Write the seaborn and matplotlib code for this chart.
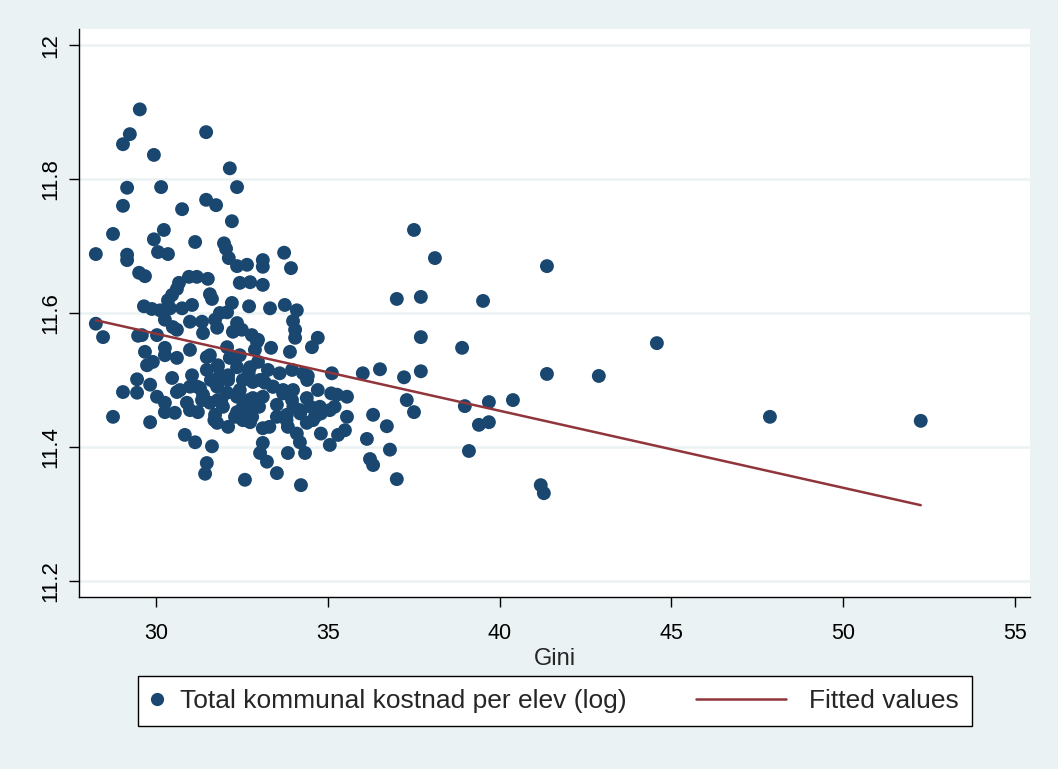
import numpy as np
import pandas as pd
import seaborn as sns
import matplotlib
matplotlib.use("Agg")
import matplotlib.pyplot as plt
from matplotlib.lines import Line2D
from matplotlib.legend_handler import HandlerBase, HandlerLine2D

# ---------------- data ----------------
gini = [
    29.53, 29.24, 29.04, 29.94, 31.46, 32.15, 32.36, 29.16, 30.15, 29.04,
    30.76, 31.46, 31.75, 32.21, 30.23, 28.75, 29.94, 31.14, 31.98, 28.25,
    29.16, 29.16, 30.06, 30.35, 32.04, 32.12, 32.36, 32.65, 33.11, 33.11,
    33.73, 33.93, 29.51, 29.68, 30.67, 30.96, 31.19, 31.51, 32.44, 32.74,
    33.11, 31.57, 30.47, 30.61, 32.21, 31.63, 29.65, 29.88, 30.12, 30.35,
    30.41, 30.76, 31.05, 31.86, 30.99, 31.34, 31.72, 32.36, 30.26, 30.49,
    31.37, 31.78, 32.50, 29.59, 30.03, 32.71, 33.32, 33.75, 34.10, 33.99,
    34.05, 34.05, 32.97, 34.71, 34.54, 32.07, 28.25, 28.46, 29.48, 30.61,
    32.79, 32.94, 32.24, 29.68, 29.91, 30.26, 30.26, 30.61, 30.99, 31.48,
    32.07, 32.44, 31.80, 32.36, 31.05, 30.47, 32.10, 29.45, 33.35, 33.90,
    32.74, 32.97, 33.26, 33.96, 34.28, 34.42, 35.12, 31.86, 31.57, 32.15,
    32.88, 29.74, 29.04, 29.45, 29.83, 30.03, 30.26, 30.70, 30.99, 31.28,
    31.78, 32.07, 32.44, 30.90, 31.34, 31.80, 32.36, 32.53, 30.26, 30.55,
    31.22, 31.72, 32.36, 29.83, 31.78, 32.53, 28.75, 32.53, 33.03, 33.41,
    33.70, 33.99, 34.71, 35.27, 35.56, 32.82, 33.11, 33.52, 33.96, 34.39,
    34.77, 35.06, 32.74, 33.81, 34.19, 34.63, 35.56, 31.48, 31.72, 32.82,
    33.17, 31.37, 31.57, 31.95, 30.99, 30.61, 33.11, 33.84, 34.39, 35.30,
    35.50, 33.11, 34.19, 35.06, 33.03, 33.84, 34.34, 33.23, 33.52, 30.84,
    31.14, 31.63, 31.48, 31.43, 32.59, 34.22, 33.52, 32.74, 34.57, 36.02,
    36.52, 37.22, 37.71, 37.30, 37.51, 38.99, 39.69, 40.39, 36.32, 36.72,
    39.40, 39.69, 36.14, 36.81, 39.11, 36.23, 36.32, 37.01, 41.20, 41.29,
    38.91, 37.71, 41.38, 37.51, 38.12, 41.38, 37.01, 37.71, 39.52, 44.58,
    42.89, 47.87, 52.26,
    # dense core (overlapping markers)
    31.80, 32.10, 32.40, 32.70, 33.00, 33.40, 33.70, 34.00, 34.20, 34.50,
    34.80, 35.10, 31.90, 32.30, 32.80, 33.10, 33.60, 33.80, 34.40, 35.20,
    31.20, 31.60, 32.70, 33.30, 34.10, 34.80, 31.70, 32.10,
]
kostnad = [
    11.904, 11.867, 11.852, 11.836, 11.870, 11.816, 11.788, 11.787, 11.788, 11.760,
    11.755, 11.769, 11.761, 11.737, 11.724, 11.718, 11.710, 11.706, 11.704, 11.688,
    11.687, 11.679, 11.691, 11.688, 11.696, 11.682, 11.670, 11.672, 11.679, 11.669,
    11.690, 11.667, 11.660, 11.655, 11.645, 11.654, 11.654, 11.651, 11.645, 11.646,
    11.642, 11.628, 11.627, 11.636, 11.615, 11.621, 11.610, 11.606, 11.604, 11.619,
    11.607, 11.607, 11.612, 11.600, 11.587, 11.587, 11.590, 11.585, 11.590, 11.579,
    11.570, 11.578, 11.575, 11.567, 11.567, 11.610, 11.607, 11.612, 11.604, 11.588,
    11.575, 11.563, 11.560, 11.563, 11.549, 11.601, 11.584, 11.564, 11.566, 11.575,
    11.567, 11.557, 11.572, 11.542, 11.527, 11.548, 11.537, 11.533, 11.545, 11.534,
    11.549, 11.537, 11.522, 11.519, 11.507, 11.503, 11.507, 11.501, 11.548, 11.542,
    11.519, 11.527, 11.515, 11.515, 11.510, 11.506, 11.510, 11.507, 11.537, 11.533,
    11.545, 11.522, 11.482, 11.481, 11.493, 11.475, 11.466, 11.485, 11.490, 11.488,
    11.490, 11.481, 11.485, 11.466, 11.470, 11.470, 11.475, 11.460, 11.452, 11.451,
    11.452, 11.448, 11.452, 11.437, 11.436, 11.440, 11.445, 11.500, 11.500, 11.490,
    11.485, 11.485, 11.485, 11.478, 11.475, 11.473, 11.475, 11.463, 11.470, 11.473,
    11.460, 11.455, 11.452, 11.448, 11.455, 11.445, 11.445, 11.515, 11.496, 11.497,
    11.496, 11.478, 11.466, 11.460, 11.455, 11.482, 11.428, 11.430, 11.436, 11.418,
    11.425, 11.406, 11.407, 11.403, 11.391, 11.391, 11.391, 11.378, 11.361, 11.418,
    11.407, 11.401, 11.376, 11.360, 11.351, 11.343, 11.445, 11.437, 11.440, 11.510,
    11.516, 11.504, 11.513, 11.470, 11.452, 11.461, 11.467, 11.470, 11.448, 11.431,
    11.433, 11.437, 11.412, 11.396, 11.394, 11.382, 11.373, 11.352, 11.343, 11.331,
    11.548, 11.564, 11.509, 11.724, 11.682, 11.670, 11.621, 11.624, 11.618, 11.555,
    11.506, 11.445, 11.439,
    # dense core (overlapping markers)
    11.520, 11.500, 11.480, 11.470, 11.460, 11.490, 11.480, 11.460, 11.450, 11.460,
    11.450, 11.480, 11.470, 11.445, 11.445, 11.500, 11.510, 11.440, 11.500, 11.460,
    11.490, 11.500, 11.510, 11.430, 11.420, 11.420, 11.440, 11.430,
]
x_ticks = [30, 35, 40, 45, 50, 55]
y_ticks = [11.2, 11.4, 11.6, 11.8, 12.0]
y_tick_labels = ["11.2", "11.4", "11.6", "11.8", "12"]
x_title = "Gini"
series_label = "Total kommunal kostnad per elev (log)"
fit_label = "Fitted values"

# ---------------- style ----------------
NAVY = "#1A476F"
MAROON = "#90353B"
BG = "#EAF2F3"

sns.set_theme(style="white")
plt.rcParams["font.family"] = ["Liberation Sans", "DejaVu Sans"]

df = pd.DataFrame({"Gini": gini, "Kostnad": kostnad})

W, H = 1058, 769
fig = plt.figure(figsize=(W / 100, H / 100), dpi=100, facecolor=BG)
ax = fig.add_axes([79 / W, 1 - 597 / H, (1030 - 79) / W, (597 - 29) / H])
ax.set_facecolor("white")

for yv in y_ticks:
    ax.axhline(yv, color=BG, lw=1.8, zorder=1)

sns.scatterplot(data=df, x="Gini", y="Kostnad", ax=ax, color=NAVY, s=100,
                edgecolor="none", linewidth=0, zorder=3, legend=False)
sns.regplot(data=df, x="Gini", y="Kostnad", ax=ax, scatter=False, ci=None,
            truncate=True, line_kws=dict(color=MAROON, lw=1.8, zorder=4))

ax.set_xlim(27.76, 55.44)
ax.set_ylim(11.176, 12.024)
ax.set_xticks(x_ticks)
ax.set_xticklabels([str(t) for t in x_ticks], fontsize=15.5)
ax.set_yticks(y_ticks)
ax.set_yticklabels(y_tick_labels, rotation=90, va="center", fontsize=16)
ax.tick_params(axis="both", direction="out", length=7.5, width=1.0,
               colors="black", left=True, bottom=True)
ax.tick_params(axis="x", pad=11)
ax.tick_params(axis="y", pad=5)
ax.set_xlabel(x_title, fontsize=17, labelpad=3)
ax.set_ylabel("")
for s in ["top", "right"]:
    ax.spines[s].set_visible(False)
for s in ["left", "bottom"]:
    ax.spines[s].set_color("black")
    ax.spines[s].set_linewidth(1.0)


class LongLineHandler(HandlerBase):
    def create_artists(self, legend, orig_handle, xdescent, ydescent,
                       width, height, fontsize, trans):
        y = height / 2 - ydescent
        ln = Line2D([-xdescent - 60.5, -xdescent + 4.3], [y, y],
                    color=MAROON, lw=1.8)
        ln.set_transform(trans)
        return [ln]


h_pts = Line2D([], [], marker="o", linestyle="none", color=NAVY,
               markersize=9.5, markeredgewidth=0)
h_fit = Line2D([], [], color=MAROON, lw=1.8)
leg = fig.legend([h_pts, h_fit], [series_label, fit_label], ncol=2,
                 loc="upper left",
                 bbox_to_anchor=(138 / W, 0.0, 834 / W, 1 - 676 / H),
                 mode="expand", borderaxespad=0, fontsize=19,
                 handlelength=0.44, handletextpad=0.65, borderpad=0.5,
                 fancybox=False, framealpha=1, edgecolor="black",
                 facecolor="white",
                 handler_map={h_fit: LongLineHandler(),
                              h_pts: HandlerLine2D(numpoints=1)})
leg.get_frame().set_linewidth(1.0)

fig.savefig("out.png", dpi=100, facecolor=BG)
